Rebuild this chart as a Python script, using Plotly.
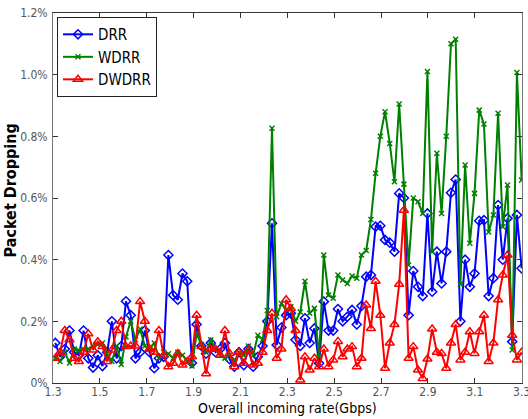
import plotly.graph_objects as go

# Overall incoming rate (Gbps), one sample every ~0.02 Gbps
rates = [round(1.31 + 0.0201 * i, 4) for i in range(100)]

drr = [0.13, 0.085, 0.11, 0.17, 0.10, 0.09, 0.17, 0.08, 0.05, 0.09,
       0.055, 0.10, 0.20, 0.08, 0.12, 0.265, 0.22, 0.08, 0.10, 0.17,
       0.10, 0.048, 0.08, 0.085, 0.415, 0.285, 0.27, 0.355, 0.33, 0.065,
       0.19, 0.12, 0.095, 0.13, 0.10, 0.11, 0.13, 0.077, 0.053, 0.10,
       0.058, 0.11, 0.053, 0.085, 0.12, 0.20, 0.518, 0.123, 0.18, 0.22,
       0.226, 0.14, 0.12, 0.21, 0.13, 0.177, 0.064, 0.264, 0.17, 0.17,
       0.24, 0.20, 0.215, 0.237, 0.19, 0.25, 0.345, 0.35, 0.507, 0.51,
       0.464, 0.455, 0.426, 0.615, 0.60, 0.22, 0.363, 0.312, 0.282, 0.55,
       0.296, 0.426, 0.323, 0.426, 0.617, 0.66, 0.20, 0.40, 0.312, 0.355,
       0.526, 0.528, 0.282, 0.34, 0.577, 0.40, 0.534, 0.134, 0.545, 0.372]

wdrr = [0.08, 0.07, 0.10, 0.065, 0.11, 0.105, 0.11, 0.11, 0.12, 0.125,
        0.13, 0.095, 0.07, 0.12, 0.06, 0.15, 0.20, 0.14, 0.175, 0.12,
        0.11, 0.13, 0.08, 0.10, 0.095, 0.08, 0.10, 0.09, 0.07, 0.055,
        0.16, 0.125, 0.10, 0.14, 0.11, 0.09, 0.08, 0.09, 0.07, 0.10,
        0.09, 0.12, 0.09, 0.155, 0.14, 0.235, 0.826, 0.215, 0.258, 0.237,
        0.247, 0.20, 0.23, 0.33, 0.226, 0.242, 0.085, 0.415, 0.285, 0.275,
        0.35, 0.334, 0.323, 0.347, 0.34, 0.415, 0.43, 0.53, 0.68, 0.80,
        0.88, 0.777, 0.653, 0.905, 0.645, 0.383, 0.60, 0.588, 0.55, 1.01,
        0.426, 0.745, 0.55, 0.80, 1.10, 1.115, 0.32, 0.707, 0.453, 0.615,
        0.885, 0.84, 0.49, 0.545, 0.875, 0.507, 0.642, 0.107, 1.007, 0.658]

dwdrr = [0.08, 0.10, 0.17, 0.14, 0.08, 0.07, 0.10, 0.16, 0.107, 0.134,
         0.118, 0.07, 0.107, 0.17, 0.20, 0.118, 0.12, 0.12, 0.264, 0.20,
         0.11, 0.10, 0.17, 0.09, 0.053, 0.064, 0.096, 0.058, 0.07, 0.085,
         0.22, 0.118, 0.03, 0.11, 0.11, 0.09, 0.17, 0.096, 0.053, 0.10,
         0.064, 0.107, 0.058, 0.064, 0.10, 0.17, 0.226, 0.08, 0.11, 0.27,
         0.242, 0.17, 0.01, 0.085, 0.042, 0.08, 0.053, 0.11, 0.053, 0.075,
         0.135, 0.085, 0.11, 0.118, 0.053, 0.08, 0.253, 0.177, 0.33, 0.22,
         0.048, 0.13, 0.19, 0.32, 0.56, 0.08, 0.118, 0.042, 0.015, 0.078,
         0.175, 0.10, 0.096, 0.048, 0.13, 0.19, 0.075, 0.10, 0.166, 0.096,
         0.166, 0.22, 0.07, 0.13, 0.27, 0.35, 0.415, 0.155, 0.075, 0.10]

x_ticks = [1.3, 1.5, 1.7, 1.9, 2.1, 2.3, 2.5, 2.7, 2.9, 3.1, 3.3]
x_tick_labels = ["1.3", "1.5", "1.7", "1.9", "2.1", "2.3", "2.5", "2.7", "2.9", "3.1", "3.3"]
y_ticks = [0, 0.2, 0.4, 0.6, 0.8, 1.0, 1.2]
y_tick_labels = ["0%", "0.2%", "0.4%", "0.6%", "0.8%", "1.0%", "1.2%"]

FONT = "Liberation Sans Narrow, Arial Narrow, DejaVu Sans Condensed, Arial, sans-serif"

series = [
    ("DRR", drr, "#0000ff", "diamond-open", 7),
    ("WDRR", wdrr, "#008000", "x-thin", 5),
    ("DWDRR", dwdrr, "#ff0000", "triangle-up-open", 8),
]

fig = go.Figure()
for name, vals, color, symbol, size in series:
    fig.add_trace(go.Scatter(
        x=rates, y=vals, mode="lines+markers", name=name,
        line=dict(color=color, width=2),
        marker=dict(symbol=symbol, size=size, color=color,
                    line=dict(color=color, width=1.5)),
    ))

axis_common = dict(
    showgrid=False, zeroline=False, showline=True, mirror="ticks",
    ticks="inside", ticklen=5, tickcolor="#333",
    tickfont=dict(family=FONT, size=12, color="#555"),
)

fig.update_layout(
    width=528, height=419,
    margin=dict(l=53, r=6, t=13, b=36),
    paper_bgcolor="white", plot_bgcolor="white",
    font=dict(family=FONT, color="black"),
    xaxis=dict(range=[1.3, 3.3015], tickvals=x_ticks, ticktext=x_tick_labels,
               linecolor="#333", ticklabelstandoff=-2, automargin=False,
               ticklabeloverflow="allow", **axis_common),
    yaxis=dict(range=[0, 1.2], tickvals=y_ticks, ticktext=y_tick_labels,
               linecolor="#777", ticklabelstandoff=2, automargin=False,
               **axis_common),
    legend=dict(x=0.0085, y=0.989, xanchor="left", yanchor="top",
                bgcolor="white", bordercolor="#222", borderwidth=1,
                font=dict(family=FONT, size=15, color="black"),
                tracegroupgap=0, itemwidth=30),
    annotations=[
        dict(text="Overall incoming rate(Gbps)", xref="paper", yref="paper",
             x=0.5, y=-0.094, xanchor="center", yanchor="bottom", showarrow=False,
             font=dict(family=FONT, size=14, color="black")),
        dict(text="Packet Dropping", xref="paper", yref="paper",
             x=-0.09, y=0.52, xanchor="center", yanchor="middle", showarrow=False,
             textangle=-90,
             font=dict(family=FONT, size=16, color="black", weight="bold")),
    ],
)

fig.write_html("out.html")
